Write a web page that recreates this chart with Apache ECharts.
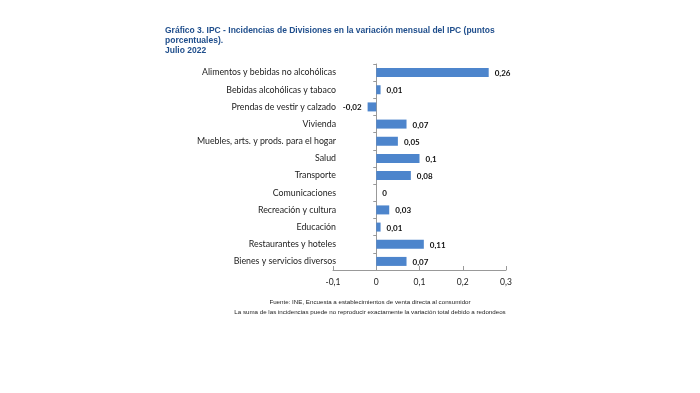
<!DOCTYPE html>
<html><head><meta charset="utf-8">
<script src="https://cdn.jsdelivr.net/npm/echarts@6/dist/echarts.min.js"></script>
<style>html,body{margin:0;padding:0;background:#fff}#c{width:700px;height:393px}</style>
</head><body><div id="c"></div>
<script>
const categories = ["Alimentos y bebidas no alcohólicas","Bebidas alcohólicas y tabaco","Prendas de vestir y calzado","Vivienda","Muebles, arts. y prods. para el hogar","Salud","Transporte","Comunicaciones","Recreación y cultura","Educación","Restaurantes y hoteles","Bienes y servicios diversos"];
const values = [0.26, 0.01, -0.02, 0.07, 0.05, 0.1, 0.08, 0, 0.03, 0.01, 0.11, 0.07];
const xTicks = [-0.1, 0, 0.1, 0.2, 0.3];
const titleText = "Gráfico 3. IPC - Incidencias de Divisiones en la variación mensual del IPC (puntos\nporcentuales).\nJulio 2022";
const footer1 = "Fuente: INE, Encuesta a establecimientos de venta directa al consumidor";
const footer2 = "La suma de las incidencias puede no reproducir exactamente la variación total debido a redondeos";

const fmt = v => String(v).replace('.', ',');
const chart = echarts.init(document.getElementById('c'));
const font = 'Lato, "Open Sans", sans-serif';
chart.setOption({
  animation: false,
  title: [
    {text: titleText, left: 160, top: 21, textStyle: {fontFamily: 'Liberation Sans, Arial', fontSize: 8.5, fontWeight: 'bold', color: '#1F4E8C', lineHeight: 10}},
    {text: footer1 + '\n' + footer2, left: 365, top: 292, textAlign: 'center', textStyle: {fontFamily: 'Liberation Sans, Arial', fontSize: 6.2, fontWeight: 'normal', color: '#222', lineHeight: 10, align: 'center'}}
  ],
  grid: {left: 333, right: 194, top: 64, bottom: 123},
  xAxis: {
    type: 'value', min: xTicks[0], max: xTicks[xTicks.length-1], interval: 0.1,
    splitLine: {show: false},
    axisLine: {show: true, onZero: false, lineStyle: {color: '#999'}},
    axisTick: {show: true, inside: true, length: 4, lineStyle: {color: '#999'}},
    axisLabel: {formatter: v => fmt(Math.round(v*10)/10), fontFamily: font, fontSize: 8.5, color: '#222', margin: 8}
  },
  yAxis: [
    {type: 'category', data: categories, inverse: true,
     axisLine: {show: true, onZero: true, lineStyle: {color: '#999'}},
     axisTick: {show: true, length: 3, lineStyle: {color: '#999'}},
     axisLabel: {show: false}},
    {type: 'category', data: categories, inverse: true, position: 'left',
     axisLine: {show: false, onZero: false}, axisTick: {show: false},
     axisLabel: {fontFamily: font, fontSize: 8.8, color: '#222', margin: -3}}
  ],
  series: [{
    type: 'bar', yAxisIndex: 0, barWidth: 9,
    itemStyle: {color: '#4D85CC'},
    data: values.map(v => ({value: v, label: {position: v < 0 ? 'left' : 'right'}})),
    label: {show: true, distance: 6, formatter: p => fmt(p.value), fontFamily: font, fontSize: 8, fontWeight: 'bold', color: '#111', offset: [0, 1]}
  }]
});
</script></body></html>
